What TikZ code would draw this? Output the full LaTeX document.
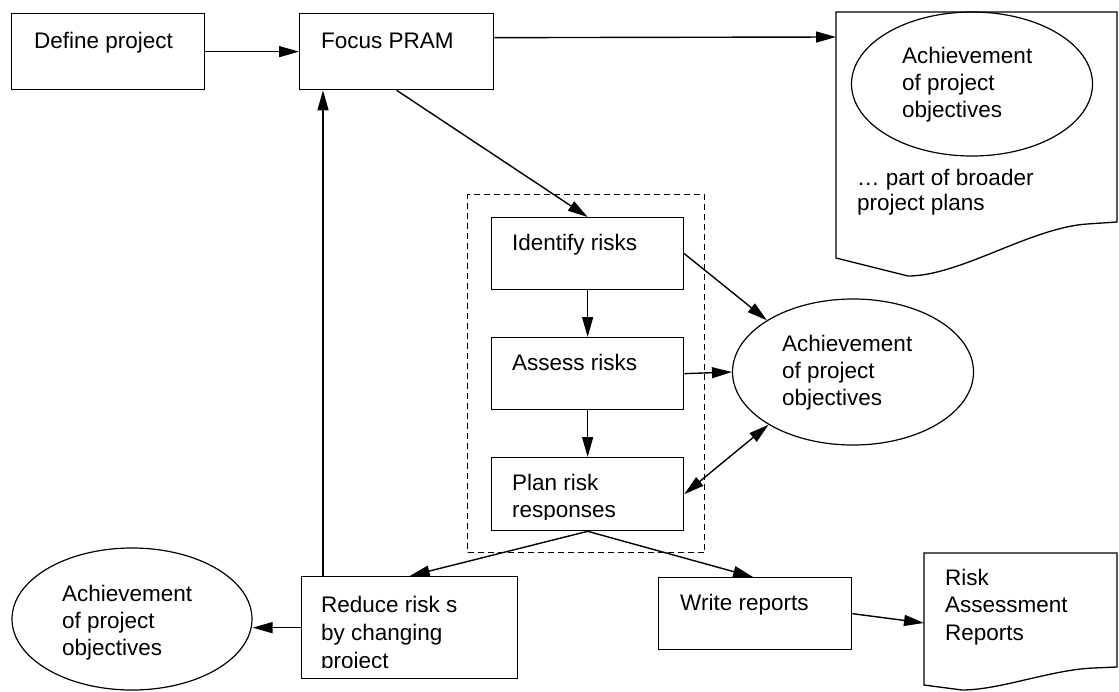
\documentclass[tikz,border=0pt]{standalone}
\usepackage{fontspec}
\setmainfont{Liberation Sans}
\usetikzlibrary{arrows.meta,shapes.geometric}

\tikzset{
  procbox/.style={draw, line width=1.3pt, anchor=north west, inner sep=0pt},
  goal/.style={draw, ellipse, line width=1.2pt, minimum width=241pt, minimum height=144pt, inner sep=0pt},
  lbl/.style={anchor=base west, inner sep=0pt, align=left, font=\fontsize{22.5}{26.6}\selectfont},
  arr/.style={line width=1.4pt, -{Triangle[length=20pt,width=11pt]}},
  darr/.style={line width=1.4pt, {Triangle[length=20pt,width=11pt]}-{Triangle[length=20pt,width=11pt]}},
  grpbox/.style={draw, line width=1.2pt, dash pattern=on 6pt off 4pt, anchor=north west, inner sep=0pt}
}

\begin{document}
\begin{tikzpicture}[x=1pt, y=-1pt]
            \useasboundingbox (0,0) rectangle (1119,691);

            % Dokumente (rechts oben und rechts unten)
            \draw[line width=1.3pt] (836,258) -- (836,12) -- (1117,12) -- (1117,222) -- (1087,224)
                .. controls (1030,228) and (960,276) .. (908,276) -- cycle;
            \draw[line width=1.3pt] (924,685) -- (924,553) -- (1117,553) -- (1117,667) -- (1093,668)
                .. controls (1050,670) and (1000,690) .. (962,690) -- cycle;
            \coordinate (planin) at (836,37);
            \coordinate (rptin) at (924,623);

            % Gruppe der drei Schritte
            \node[grpbox, minimum width=237pt, minimum height=358pt] (grp) at (467,194) {};

            % Kaesten
            \node[procbox, minimum width=193pt, minimum height=76pt] (define) at (11,13) {};
            \node[procbox, minimum width=194pt, minimum height=76pt] (focus) at (299,13) {};
            \node[procbox, minimum width=192pt, minimum height=72pt] (identify) at (491,217) {};
            \node[procbox, minimum width=192pt, minimum height=72pt] (assess) at (491,337) {};
            \node[procbox, minimum width=192pt, minimum height=73pt] (plan) at (491,457) {};
            \node[procbox, minimum width=216pt, minimum height=102pt] (reduce) at (301,576) {};
            \node[procbox, minimum width=193pt, minimum height=72pt] (write) at (658,577) {};

            % Ellipsen
            \node[goal] (goaltop) at (972,84) {};
            \node[goal, minimum height=146pt] (goalmid) at (853,372) {};
            \node[goal, minimum width=240pt, minimum height=142pt] (goalleft) at (132,619) {};

            % Texte (Grundlinie der letzten Zeile)
            \node[lbl] at (34,48) {Define project};
            \node[lbl] at (321,48) {Focus PRAM};
            \node[lbl] at (512,250) {Identify risks};
            \node[lbl] at (512,370) {Assess risks};
            \begin{scope}
                \clip (491,457) rectangle (683,519);
                \node[lbl] at (512,517) {Plan risk\\responses};
            \end{scope}
            \begin{scope}
                \clip (301,576) rectangle (517,667);
                \node[lbl, font=\fontsize{22.5}{28}\selectfont] at (321,668) {Reduce risk s\\by changing\\project};
            \end{scope}
            \node[lbl] at (680,610) {Write reports};
            \node[lbl, font=\fontsize{22.5}{27.5}\selectfont] at (945,640) {Risk\\Assessment\\Reports};
            \node[lbl, font=\fontsize{22.5}{27}\selectfont] at (902,117) {Achievement\\of project\\objectives};
            \node[lbl, font=\fontsize{22.5}{24.5}\selectfont] at (857,210) {\dots{} part of broader\\project plans};
            \node[lbl] at (782,405) {Achievement\\of project\\objectives};
            \node[lbl] at (62,655) {Achievement\\of project\\objectives};

            % Pfeile
            \draw[arr] (define) -- (focus);
            \draw[arr] ([yshift=14pt]focus.east) -- (planin);
            \draw[arr] (focus.south) -- (identify.north);
            \draw[arr] (identify) -- (assess);
            \draw[arr] (assess) -- (plan);
            \draw[arr] (identify.east) -- (goalmid.149);
            \draw[arr] (assess.east) -- (goalmid.west);
            \draw[darr] (goalmid.212) -- (plan.east);
            \draw[arr] (plan.south) -- (reduce.north);
            \draw[arr] (plan.south) -- ([xshift=-2pt]write.north);
            \draw[arr] (reduce.west) -- (reduce.west -| goalleft.east);
            \draw[arr] ([xshift=22pt]reduce.north west) -- ([xshift=22pt]reduce.north west |- focus.south);
            \draw[arr] (write.east) -- (rptin);
        \end{tikzpicture}
\end{document}
